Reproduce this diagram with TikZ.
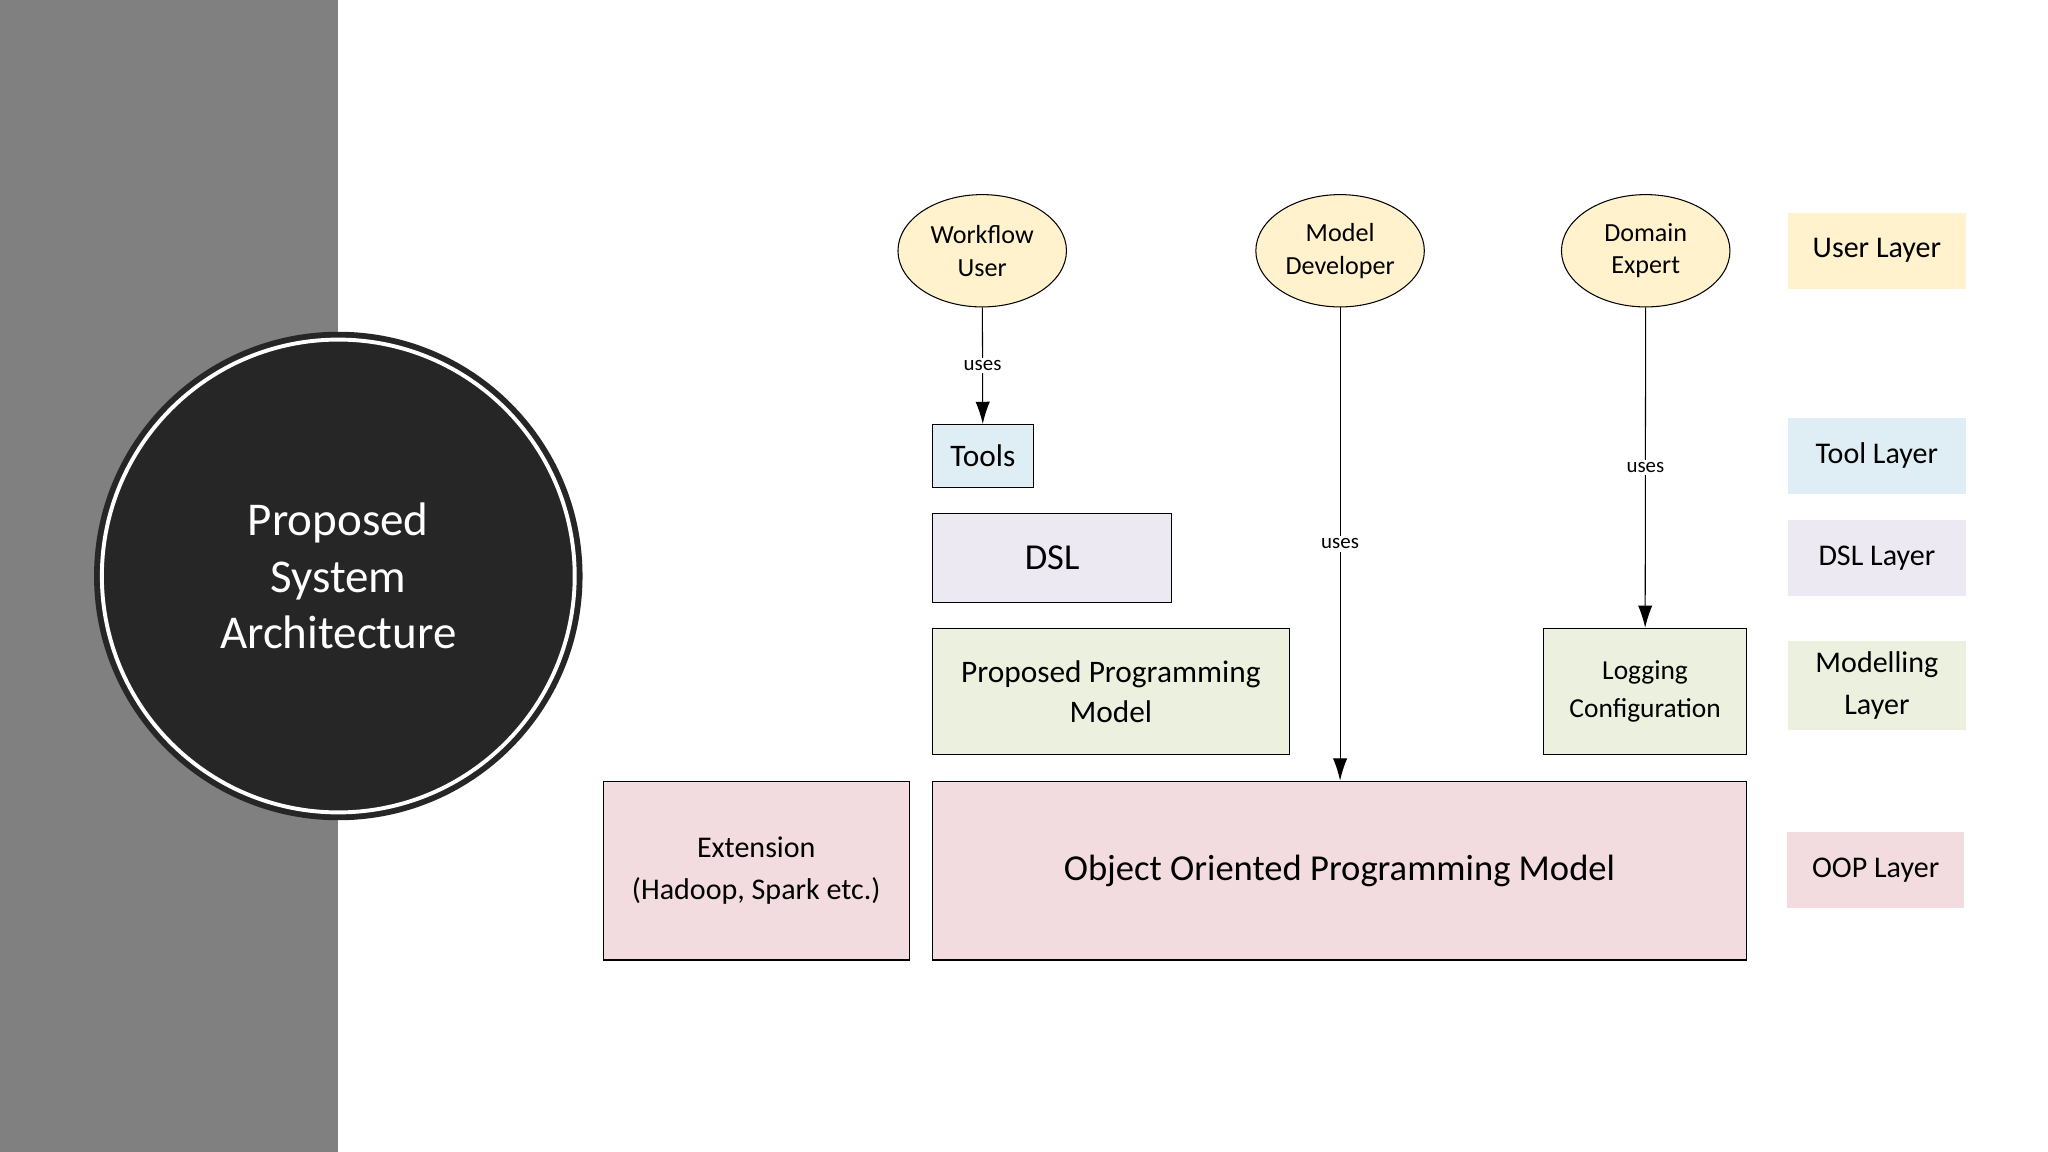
\documentclass[tikz,border=0pt]{standalone}
\usepackage{fontspec}
\setmainfont{Carlito}
\usetikzlibrary{positioning, arrows.meta, shapes.geometric}
\definecolor{userfill}{HTML}{FFF2CC}
\definecolor{toolfill}{HTML}{DEEEF4}
\definecolor{dslfill}{HTML}{ECE9F3}
\definecolor{modelfill}{HTML}{EBF1DE}
\definecolor{oopfill}{HTML}{F2DCDF}
\definecolor{darkdisc}{HTML}{262626}
\tikzset{
  actor/.style={draw, ellipse, fill=userfill, minimum width=129pt, minimum height=86pt, align=center, font=\fontsize{20}{25}\selectfont, line width=0.8pt},
  block/.style={draw, rectangle, align=center, line width=0.8pt},
  legend/.style={rectangle, minimum width=136pt, minimum height=58pt, align=center, font=\fontsize{23}{31}\selectfont},
  usesarrow/.style={-{Latex[length=17pt,width=11pt]}, line width=0.8pt},
  useslabel/.style={fill=white, font=\fontsize{16}{18}\selectfont, inner sep=2pt}
}
\begin{document}
\begin{tikzpicture}[x=1pt, y=-1pt]
\useasboundingbox (0,0) rectangle (1568,882);
\fill[white] (0,0) rectangle (1568,882);
\fill[gray!100!white, fill=black!50] (0,0) rectangle (259,882);

% title disc
\fill[darkdisc] (259,441) circle (187);
\draw[white, line width=3pt] (259,441) circle (181);
\node[text=white, align=center, font=\fontsize{36}{43}\selectfont] (title) at (259,441) {Proposed\\System\\Architecture};

% users
\node[actor] (wfuser) at (752,192) {Workflow\\User};
\node[actor] (moddev) at (1026,192) {Model\\Developer};
\node[actor] (domexp) at (1260,192) {Domain\\Expert};

% layers
\node[block, fill=toolfill, minimum width=77pt, minimum height=48pt, font=\fontsize{24}{28}\selectfont] (tools) at (752.5,349) {Tools};
\node[block, fill=dslfill, minimum width=183pt, minimum height=68pt, font=\fontsize{28}{32}\selectfont] (dsl) at (805.5,427) {DSL};
\node[block, fill=modelfill, minimum width=273pt, minimum height=97pt, font=\fontsize{24}{31}\selectfont] (ppm) at (850.5,529.5) {Proposed Programming\\Model};
\node[block, fill=modelfill, minimum width=155pt, minimum height=97pt, font=\fontsize{21}{29}\selectfont] (logcfg) at (1259.5,529.5) {Logging\\Configuration};
\node[block, fill=oopfill, minimum width=234pt, minimum height=137pt, font=\fontsize{23}{32}\selectfont] (ext) at (579,666.5) {Extension\\(Hadoop, Spark etc.)};
\node[block, fill=oopfill, minimum width=623pt, minimum height=137pt, font=\fontsize{28}{32}\selectfont] (oop) at (1025.5,666.5) {Object Oriented Programming Model};

% legend
\node[legend, fill=userfill] (leguser) at (1437,192) {User Layer};
\node[legend, fill=toolfill] (legtool) at (1437,349) {Tool Layer};
\node[legend, fill=dslfill] (legdsl) at (1437,427) {DSL Layer};
\node[legend, fill=modelfill, minimum height=68pt, font=\fontsize{23}{32}\selectfont] (legmodel) at (1437,525) {Modelling\\Layer};
\node[legend, fill=oopfill] (legoop) at (1436,666) {OOP Layer};

% uses arrows
\draw[usesarrow] (wfuser) -- node[useslabel] {uses} (tools);
\draw[usesarrow] (moddev) -- node[useslabel] {uses} (moddev |- oop.north);
\draw[usesarrow] (domexp) -- node[useslabel] {uses} (logcfg);
\end{tikzpicture}
\end{document}
